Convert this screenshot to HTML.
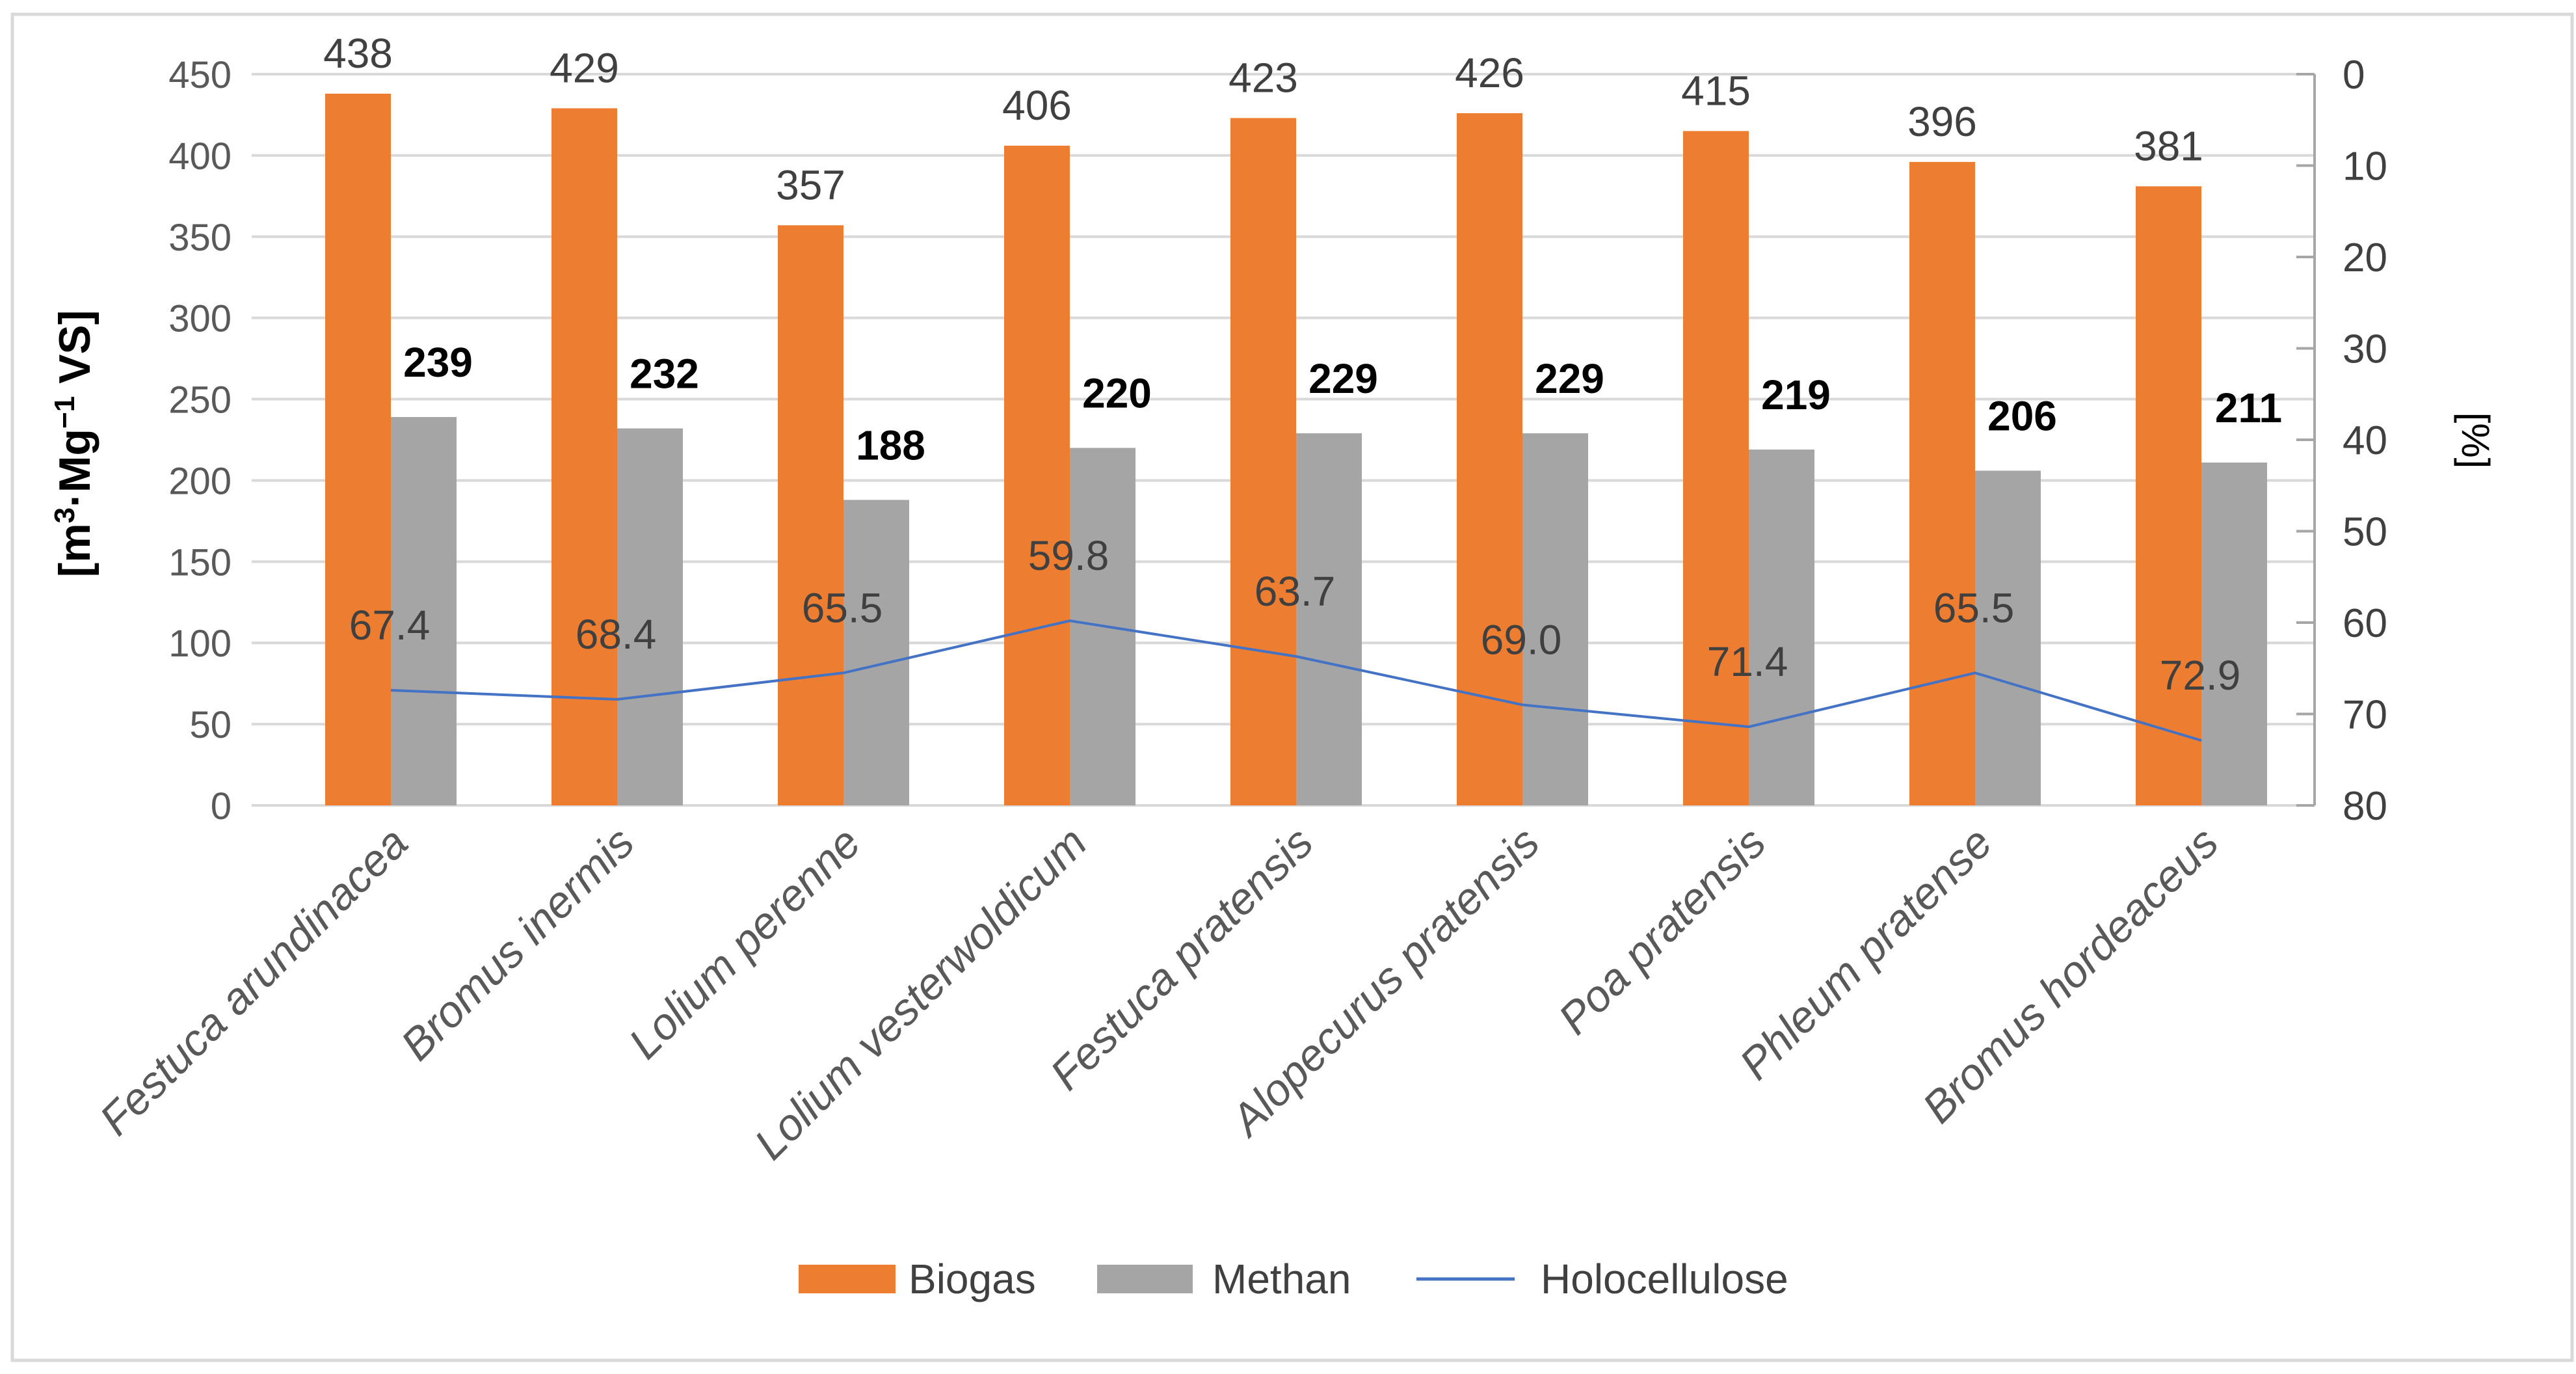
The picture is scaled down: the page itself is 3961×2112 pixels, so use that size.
<!DOCTYPE html>
<html><head><meta charset="utf-8"><style>
body{margin:0;background:#fff}
svg{display:block;font-family:"Liberation Sans","DejaVu Sans",sans-serif}
</style></head><body>
<svg width="3961" height="2112" viewBox="0 0 3961 2112">
<rect x="19" y="22" width="3936" height="2069" fill="#fff" stroke="#d9d9d9" stroke-width="5"/>
<g id="grid"></g>
<g id="yl"></g>
<g id="yr"></g>
<g id="bars"></g>
<g id="line"></g>
<g id="xl"></g>
<text transform="translate(138,682) rotate(-90)" text-anchor="middle" font-size="68" font-weight="bold" fill="#000">[m<tspan baseline-shift="super" font-size="44">3</tspan>·Mg<tspan baseline-shift="super" font-size="44">−1</tspan> VS]</text>
<text transform="translate(3786,677) rotate(90)" text-anchor="middle" font-size="60" fill="#000">[%]</text>
<g>
<rect x="1228" y="1944" width="149" height="44" fill="#ed7d31"/>
<text x="1397" y="1988" font-size="64" fill="#404040">Biogas</text>
<rect x="1687" y="1944" width="147" height="44" fill="#a5a5a5"/>
<text x="1864" y="1988" font-size="64" fill="#404040">Methan</text>
<line x1="2178" y1="1966" x2="2329" y2="1966" stroke="#4472c4" stroke-width="5"/>
<text x="2369" y="1988" font-size="64" fill="#404040">Holocellulose</text>
</g>
</svg>
<script>
const categories=["Festuca arundinacea","Bromus inermis","Lolium perenne","Lolium vesterwoldicum","Festuca pratensis","Alopecurus pratensis","Poa pratensis","Phleum pratense","Bromus hordeaceus"];
const biogas=[438,429,357,406,423,426,415,396,381];
const methan=[239,232,188,220,229,229,219,206,211];
const holo=[67.4,68.4,65.5,59.8,63.7,69.0,71.4,65.5,72.9];
const leftTicks=[0,50,100,150,200,250,300,350,400,450];
const rightTicks=[0,10,20,30,40,50,60,70,80];
const NS="http://www.w3.org/2000/svg";
const X0=427,X1=3559,Y0=1238,Y1=114;
const yL=v=>Y0-(v/450)*(Y0-Y1);
const yR=v=>Y1+(v/80)*(Y0-Y1);
const band=(X1-X0)/categories.length;
const cx=i=>X0+band*(i+0.5);
const BW=101;
function el(t,a,p,txt){const e=document.createElementNS(NS,t);for(const k in a)e.setAttribute(k,a[k]);if(txt!==undefined)e.textContent=txt;document.getElementById(p).appendChild(e);return e;}
leftTicks.forEach(v=>{
  const g=el('line',{x1:X0-40,x2:X1,y1:yL(v),y2:yL(v),stroke:'#d9d9d9','stroke-width':4},'grid');
  
  
  const t=el('text',{x:356,y:yL(v)+21,'text-anchor':'end','font-size':58,fill:'#595959'},'yl',String(v));
  
  
});
const ax=el('line',{x1:X1,x2:X1,y1:Y1,y2:Y0,stroke:'#a6a6a6','stroke-width':4},'yr');


rightTicks.forEach(v=>{
  const tk=el('line',{x1:X1-28,x2:X1,y1:yR(v),y2:yR(v),stroke:'#a6a6a6','stroke-width':4},'yr');
  
  
  const t=el('text',{x:3602,y:yR(v)+22,'font-size':62,fill:'#404040'},'yr',String(v));
  
  
});
categories.forEach((c,i)=>{
  const b=el('rect',{x:cx(i)-BW,y:yL(biogas[i]),width:BW,height:Y0-yL(biogas[i]),fill:'#ed7d31'},'bars');
  
  
  const m=el('rect',{x:cx(i),y:yL(methan[i]),width:BW,height:Y0-yL(methan[i]),fill:'#a5a5a5'},'bars');
  
  
  const bl=el('text',{x:cx(i)-BW/2,y:yL(biogas[i])-40,'text-anchor':'middle','font-size':64,fill:'#404040'},'bars',String(biogas[i]));
  
  
  const ml=el('text',{x:cx(i)+BW/2+22,y:yL(methan[i])-62,'text-anchor':'middle','font-size':64,'font-weight':'bold',fill:'#000'},'bars',String(methan[i]));
  
  
  const hl=el('text',{x:cx(i)-2,y:yR(holo[i])-78,'text-anchor':'middle','font-size':64,fill:'#404040'},'line',holo[i].toFixed(1));
  
  
  const xl=el('text',{transform:`translate(${cx(i)+30},${Y0+62}) rotate(-45)`,'text-anchor':'end','font-size':68,'font-style':'italic',fill:'#595959'},'xl',c);
  
  
});
let d='';
holo.forEach((v,i)=>{d+=(i?'L':'M')+cx(i)+','+yR(v);});
const p=el('path',{d:d,fill:'none',stroke:'#4472c4','stroke-width':4},'line');


</script>
</body></html>
